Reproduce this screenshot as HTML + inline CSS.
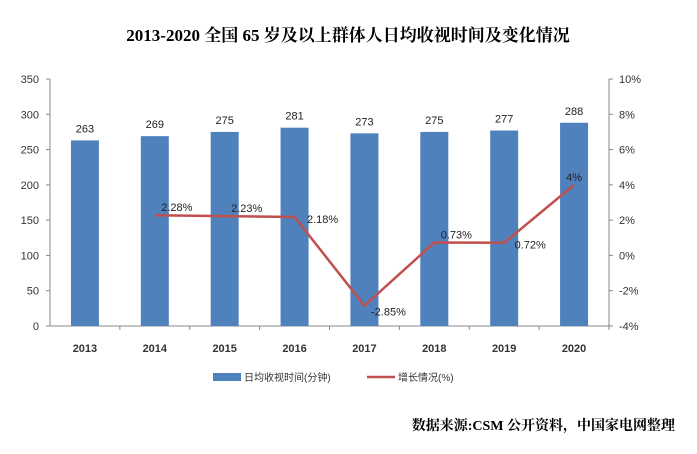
<!DOCTYPE html>
<html><head><meta charset="utf-8"><style>
body{margin:0;background:#fff;width:697px;height:449px;overflow:hidden;font-family:"Liberation Sans","Noto Sans CJK SC",sans-serif}
</style></head><body>
<svg id="c" width="697" height="449" xmlns="http://www.w3.org/2000/svg">
<text x="348" y="41" text-anchor="middle" font-size="17" font-weight="bold" font-family="Liberation Serif,Noto Serif CJK SC,serif" fill="#000">2013-2020 全国 65 岁及以上群体人日均收视时间及变化情况</text>
<g id="axes"></g><g id="bars"></g><g id="line"></g>
<g>
<rect x="213" y="373" width="28" height="8" fill="#4f81bd"/>
<text x="244" y="381" font-size="10" fill="#333">日均收视时间(分钟)</text>
<line x1="367" y1="377" x2="395" y2="377" stroke="#c0504d" stroke-width="2.5"/>
<text x="398" y="381" font-size="10" fill="#333">增长情况(%)</text>
</g>
<text x="675" y="430" text-anchor="end" font-size="14" font-weight="bold" font-family="Liberation Serif,Noto Serif CJK SC,serif" fill="#000">数据来源:CSM 公开资料，中国家电网整理</text>
</svg>
<script>
const categories=["2013","2014","2015","2016","2017","2018","2019","2020"];
const minutes=[263,269,275,281,273,275,277,288];
const growth=[null,2.28,2.23,2.18,-2.85,0.73,0.72,4];
const growthLabels=["","2.28%","2.23%","2.18%","-2.85%","0.73%","0.72%","4%"];
const leftTicks=[0,50,100,150,200,250,300,350];
const rightTicks=[-4,-2,0,2,4,6,8,10];
const NS="http://www.w3.org/2000/svg";
const X0=50,X1=609,Y0=326,Y1=79;
const bw=(X1-X0)/categories.length;
const xC=i=>X0+bw*(i+0.5);
const yL=v=>Y0-(v/350)*(Y0-Y1);
const yR=v=>Y0-((v+4)/14)*(Y0-Y1);
function mk(t,a,p){const e=document.createElementNS(NS,t);for(const k in a)e.setAttribute(k,a[k]);p.appendChild(e);return e;}
const ax=document.getElementById('axes'),bars=document.getElementById('bars'),ln=document.getElementById('line');
let e=mk('line',{x1:X0,y1:Y1,x2:X0,y2:Y0,stroke:'#888'},ax);


e=mk('line',{x1:X1,y1:Y1,x2:X1,y2:Y0,stroke:'#888'},ax);


e=mk('line',{x1:X0,y1:Y0,x2:X1,y2:Y0,stroke:'#888'},ax);


leftTicks.forEach(v=>{const y=yL(v);mk('line',{x1:X0-4,y1:y,x2:X0,y2:y,stroke:'#888'},ax);
const t=mk('text',{x:X0-11,y:y+4,'text-anchor':'end','font-size':11,fill:'#333'},ax);t.textContent=v;

});
rightTicks.forEach(v=>{const y=yR(v);mk('line',{x1:X1,y1:y,x2:X1+4,y2:y,stroke:'#888'},ax);
const t=mk('text',{x:X1+10,y:y+4,'font-size':11,fill:'#333'},ax);t.textContent=v+'%';

});
categories.forEach((c,i)=>{mk('line',{x1:X0+bw*(i+1),y1:Y0,x2:X0+bw*(i+1),y2:Y0+4,stroke:'#888'},ax);
const t=mk('text',{x:xC(i),y:352,'text-anchor':'middle','font-size':11,'font-weight':'bold',fill:'#333'},ax);t.textContent=c;


const r=mk('rect',{x:xC(i)-14,y:yL(minutes[i]),width:28,height:Y0-yL(minutes[i]),fill:'#4f81bd'},bars);


const l=mk('text',{x:xC(i),y:yL(minutes[i])-8,'text-anchor':'middle','font-size':11,fill:'#222'},bars);l.textContent=minutes[i];

});
let pts=[];growth.forEach((g,i)=>{if(g!==null)pts.push(xC(i)+','+yR(g));});
const pl=mk('polyline',{points:pts.join(' '),fill:'none',stroke:'#c0504d','stroke-width':2.5},ln);


growth.forEach((g,i)=>{if(g===null)return;
const dx=[0,22,22,28,24,22,26,0][i],dy=[0,-4,-4,6,10,-4,6,-4][i];
const t=mk('text',{x:xC(i)+dx,y:yR(g)+dy,'text-anchor':'middle','font-size':11,fill:'#222'},ln);t.textContent=growthLabels[i];

});
</script>
</body></html>
